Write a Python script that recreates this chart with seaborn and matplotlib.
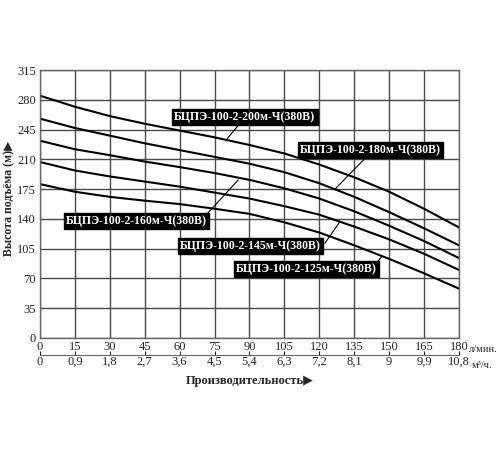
import matplotlib
matplotlib.use("Agg")
import matplotlib.pyplot as plt
import seaborn as sns
import pandas as pd

# Данные: подача (л/мин) и напор (м) по моделям
flow = [0, 15, 30, 45, 60, 75, 90, 105, 120, 135, 150, 165, 180]
h200 = [285, 272, 261, 252, 244, 236, 227, 217, 204, 189, 172, 152, 130]
h180 = [258, 247, 238, 229, 221, 213, 205, 195, 182, 166, 148, 129, 109]
h160 = [232, 222, 215, 207.5, 201, 194, 186, 176, 164, 149, 132, 114, 94]
h145 = [207, 197, 190, 184, 178, 171, 164, 155, 145, 131, 116, 99, 80]
h125 = [181, 172, 166, 161.5, 157.5, 152, 146, 136, 124, 109, 93, 76, 58]
models = ["БЦПЭ-100-2-200м-Ч(380В)", "БЦПЭ-100-2-180м-Ч(380В)", "БЦПЭ-100-2-160м-Ч(380В)",
          "БЦПЭ-100-2-145м-Ч(380В)", "БЦПЭ-100-2-125м-Ч(380В)"]
heads = [h200, h180, h160, h145, h125]

x_ticks = list(range(0, 181, 15))
y_ticks = list(range(0, 316, 35))
m3_ticks = [0, 0.9, 1.8, 2.7, 3.6, 4.5, 5.4, 6.3, 7.2, 8.1, 9, 9.9, 10.8]
m3_labels = ["0", "0,9", "1,8", "2,7", "3,6", "4,5", "5,4", "6,3", "7,2", "8,1", "9", "9,9", "10,8"]

# подписи: (текст, позиция, начало выноски, конец выноски)
labels = [
    (models[0], (88, 260), (86.2, 253.5), (80, 233)),
    (models[1], (142, 221), (140.4, 213.5), (126.7, 175)),
    (models[2], (41.5, 137.5), (71.6, 145.5), (85.2, 186)),
    (models[3], (90.5, 108), (122.4, 111.5), (128.9, 137)),
    (models[4], (114.5, 81.5), (144.6, 88), (146.8, 96)),
]

df = pd.concat([pd.DataFrame({"q": flow, "h": h, "model": m}) for m, h in zip(models, heads)])

sns.set_style("white")
plt.rcParams["font.family"] = ["Liberation Serif", "DejaVu Sans"]

fig = plt.figure(figsize=(5, 4.5), dpi=100)
ax = fig.add_axes([0.08, 0.249, 0.838, 0.595])

sns.lineplot(data=df, x="q", y="h", units="model", estimator=None,
             color="black", linewidth=1.5, ax=ax, legend=False)

ax.set_xlim(0, 180)
ax.set_ylim(0, 315)
ax.set_xticks(x_ticks)
ax.set_yticks(y_ticks)
ax.grid(True, color="#4a4a4a", linewidth=1.0)
for s in ax.spines.values():
    s.set_color("#666666")
    s.set_linewidth(1.0)
ax.tick_params(axis="both", length=0, labelsize=9, colors="#222222")
ax.tick_params(axis="x", pad=2)
ax.tick_params(axis="y", pad=3)
ax.set_xlabel("")
ax.set_ylabel("")

# вторая шкала в м³/ч
sec = ax.secondary_xaxis(-0.063, functions=(lambda v: v * 0.06, lambda v: v / 0.06))
sec.set_xticks(m3_ticks)
sec.set_xticklabels(m3_labels)
sec.tick_params(direction="in", length=3, width=0.8, labelsize=9, pad=1, colors="#222222")
sec.spines["bottom"].set_color("#666666")

fig.text(469 / 500, 1 - 349 / 450, "л/мин.", fontsize=7.5, va="center", ha="left")
fig.text(472 / 500, 1 - 365 / 450, "м³/ч.", fontsize=7.5, va="center", ha="left")
fig.text(250 / 500, 1 - 381 / 450, "Производительность▶", fontsize=9, fontweight="bold",
         ha="center", va="center")
fig.text(9 / 500, 1 - 198 / 450, "Высота подъёма (м)▶", fontsize=8.5, fontweight="bold",
         rotation=90, ha="center", va="center")

for text, pos, p0, p1 in labels:
    ax.plot([p0[0], p1[0]], [p0[1], p1[1]], color="black", linewidth=0.8)
    ax.text(pos[0], pos[1], text, color="white", fontsize=8.5, fontweight="bold",
            ha="center", va="center",
            bbox=dict(facecolor="black", edgecolor="black", pad=1.5))

fig.savefig("out.png", dpi=100)
